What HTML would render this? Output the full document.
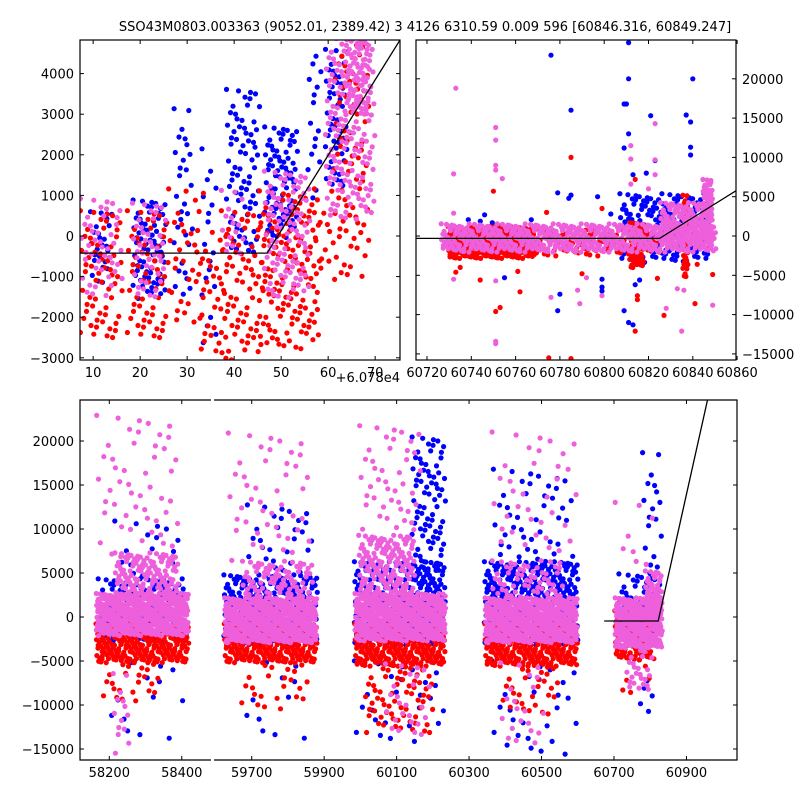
<!DOCTYPE html>
<html><head><meta charset="utf-8">
<style>
html,body{margin:0;padding:0;background:#fff;}
svg{display:block;font-family:"DejaVu Sans","Liberation Sans",sans-serif;}
text{font-size:13px;fill:#000;}
</style></head>
<body>
<svg id="chart" width="800" height="800" viewBox="0 0 800 800" xmlns="http://www.w3.org/2000/svg">
<defs>
<clipPath id="clipTL"><rect x="80" y="40" width="320" height="320"/></clipPath>
<clipPath id="clipTR"><rect x="416" y="40" width="320" height="320"/></clipPath>
<clipPath id="clipB"><rect x="80" y="400" width="657" height="360"/></clipPath>
</defs>
<text x="425" y="31" text-anchor="middle">SSO43M0803.003363 (9052.01, 2389.42)   3 4126 6310.59 0.009 596 [60846.316, 60849.247]</text>
<g id="tl"></g>
<g id="tr"></g>
<g id="bt"></g>
</svg>
<script>
// ---------------- data ----------------
var COLORS = {b:"#0000ff", r:"#ff0000", p:"#ee5fdc"};
// bands: [x0, x1, y0, y1, spacing, color]
var tlBands = [
 [8,16,-2600,500,10,"r"],[18,26,-2600,500,10,"r"],[27,33,-2200,1000,13,"r"],[33,38,-3000,0,11,"r"],
 [38,46,-3000,500,10,"r"],[46,58,-2700,1000,9,"r"],[58,62,-1500,1000,13,"r"],[62,68,-1000,4800,11,"r"],
 [10,14,-1100,500,8,"b"],[19,25,-1500,800,7,"b"],[28,31,-1500,3000,11,"b"],[34,36,-2800,2000,12,"b"],
 [39,45,-500,3500,9,"b"],[47,53,0,2600,7,"b"],[56.5,58,1000,4800,11,"b"],[60,64,1200,4500,8,"b"],
 [8,16,-1500,800,10,"p"],[19,25,-1500,700,9,"p"],[38,42,-500,1000,10,"p"],[47,56,-1500,1500,8,"p"],
 [60,70,500,4800,8,"p"],[64,69,3000,4800,6,"p"]
];
var trBands = [
 [60740,60770,-1500,1500,9,"b"],[60808,60848,-3000,5000,6,"b"],
 [60730,60768,-2800,1000,3,"r"],[60770,60825,-2500,500,6,"r"],[60836,60838,-5000,5000,3,"r"],[60812,60818,-4000,1500,3,"r"],
 [60727,60850,-2200,1300,4,"p"],[60826,60849,-1000,4000,4,"p"],[60845,60849,0,7000,3,"p"]
];
var bBands = [
 [58175,58410,-3000,4000,6,"b"],[58230,58400,4000,10000,16,"b"],[58200,58400,-14000,-6000,22,"b"],
 [58167,58416,-5200,-1000,4,"r"],[58190,58330,-9000,-5000,10,"r"],
 [58167,58416,-2200,2500,3,"p"],[58220,58390,2500,7000,5,"p"],[58180,58400,7000,22000,16,"p"],[58220,58260,-15000,-7000,10,"p"],
 [59628,59877,-3000,4500,5,"b"],[59700,59870,4500,12000,13,"b"],[59680,59850,-14000,-6000,22,"b"],
 [59628,59877,-5000,-1000,4,"r"],[59680,59860,-10000,-5000,12,"r"],
 [59628,59877,-2800,2000,3,"p"],[59680,59870,2000,6000,6,"p"],[59650,59870,6000,20000,16,"p"],
 [59988,60236,-3000,6000,5,"b"],[60150,60236,5000,20000,8,"b"],[60000,60230,-14000,-6000,18,"b"],
 [59988,60236,-5500,-1000,4,"r"],[60020,60200,-13000,-5500,9,"r"],
 [59988,60236,-2800,2500,3,"p"],[60000,60150,2500,9000,5,"p"],[60010,60170,9000,21000,13,"p"],[60080,60180,-14000,-6000,12,"p"],
 [60347,60596,-3000,6000,5,"b"],[60380,60590,6000,16000,14,"b"],[60380,60580,-15000,-6000,18,"b"],
 [60347,60596,-5500,-1000,4,"r"],[60400,60540,-11000,-5500,10,"r"],
 [60347,60596,-2800,2000,3,"p"],[60370,60560,2000,6000,7,"p"],[60380,60580,6000,20000,18,"p"],[60400,60500,-15000,-6000,14,"p"],
 [60720,60833,-2500,4500,7,"b"],[60790,60830,4500,18000,12,"b"],[60780,60810,-12000,-5500,11,"b"],
 [60706,60800,-5000,500,4,"r"],[60720,60800,-9000,-5000,14,"r"],
 [60706,60833,-3500,2000,3,"p"],[60790,60833,0,5000,4,"p"],[60740,60800,-9000,-3500,7,"p"],[60720,60800,5000,12000,18,"p"]
];
var trBlueX = [60811,60811,60840,60776,60785,60810,60809,60811,60837,60839,60839,60839,60821,60823,60809,60813,60819,60811,60813,60809,60779,60780,60799,60799,60799,60755,60746,60785,60784,60779,60797,60803,60814,60816];
var trBlueY = [24600,20000,20000,23000,16000,16800,16800,13000,15400,14500,11300,10300,15300,9600,11200,7800,8000,-11000,-11300,-9500,-9500,-7400,-6500,-7000,-5500,-5300,2700,5200,4800,5500,5000,2800,-6200,-5600];
var trRedX = [60775,60785,60785,60750,60751,60753,60744,60733,60735,60762,60761,60790,60799,60774,60814,60815,60815,60824,60827,60841,60849,60814,60842];
var trRedY = [-15500,-15600,10000,5700,-9600,-9100,-5600,-4600,-4000,-7100,-4500,-4800,3500,3000,7200,-7600,-8100,-5400,-10100,-8600,-4900,-12100,-3600];
var trPinkX = [60733,60732,60751,60751,60751,60751,60754,60732,60732,60751,60751,60751,60785,60776,60788,60789,60792,60799,60812,60812,60812,60823,60823,60820,60828,60835,60833,60836,60849,60823];
var trPinkY = [18800,7900,13800,12200,9000,8400,7300,2900,-5500,-5700,-13400,-13700,-16000,-7800,-6900,-8600,-5300,-7600,11500,9800,6600,9700,7800,6000,-9200,-12100,-6700,-6900,-8800,14300];
var tlLineX = [7.2,47,75.3], tlLineY = [-420,-420,4830];
var trLineX = [60715,60825,60862], trLineY = [-300,-300,6200];
var bLineX = [60673,60822,60958], bLineY = [-450,-450,24660];
var tlXTicks = [10,20,30,40,50,60,70], tlYTicks = [-3000,-2000,-1000,0,1000,2000,3000,4000];
var trXTicks = [60720,60740,60760,60780,60800,60820,60840,60860], trYTicks = [-15000,-10000,-5000,0,5000,10000,15000,20000];
var bXTicks = [58200,58400,59700,59900,60100,60300,60500,60700,60900], bYTicks = [-15000,-10000,-5000,0,5000,10000,15000,20000];

// ---------------- scales ----------------
var NS="http://www.w3.org/2000/svg";
function tlX(v){return 80+(v-7.2)*4.7;}
function tlY(v){return 236-v*0.0406;}
function trX(v){return 427+(v-60720)*2.215;}
function trY(v){return 236-v*0.00786;}
function bX(v){ if(v<59000) return 109.3+(v-58200)*0.3623; return 614+(v-60700)*0.3623; }
function bY(v){return 617-v*0.0088;}
function el(tag,attrs,parent){var e=document.createElementNS(NS,tag);for(var k in attrs)e.setAttribute(k,attrs[k]);parent.appendChild(e);return e;}
function fmt(v){return v<0?"\u2212"+(-v):""+v;}

function drawBands(g,bands,sx,sy,order){
  order.forEach(function(c){
    bands.forEach(function(bd){
      if(bd[5]!==c) return;
      var x0=sx(bd[0]),x1=sx(bd[1]),ya=sy(bd[3]),yb=sy(bd[2]),s=bd[4];
      var row=0;
      for(var y=ya;y<=yb;y+=s*0.87,row++){
        var col=0;
        for(var x=x0+(row%2)*s/2;x<=x1;x+=s,col++){
          var jx=(((row*37+col*17)%7)-3)*s/9, jy=(((row*13+col*29)%7)-3)*s/6;
          var d=el("circle",{cx:(x+jx).toFixed(1),cy:(y+jy).toFixed(1),r:2.6,fill:COLORS[c]},g);
          
          
        }
      }
    });
  });
}
function drawPoints(g,xs,ys,c,sx,sy){
  for(var i=0;i<xs.length;i++){
    var d=el("circle",{cx:sx(xs[i]).toFixed(1),cy:sy(ys[i]).toFixed(1),r:2.6,fill:COLORS[c]},g);
    
    
  }
}
function drawLine(g,xs,ys,sx,sy){
  var pts=xs.map(function(x,i){return sx(x).toFixed(1)+","+sy(ys[i]).toFixed(1);}).join(" ");
  var l=el("polyline",{points:pts,fill:"none",stroke:"#000","stroke-width":1.3},g);
  
  
}
function frame(g,x,y,w,h){
  var r=el("rect",{x:x,y:y,width:w,height:h,fill:"none",stroke:"#000","stroke-width":1.2},g);
  
  
}
function xTicks(g,ticks,sx,top,bot,lo,hi){
  ticks.forEach(function(t){
    var x=sx(t); if(x<lo||x>hi) return;
    el("line",{x1:x,x2:x,y1:bot,y2:bot-4,stroke:"#000"},g);
    el("line",{x1:x,x2:x,y1:top,y2:top+4,stroke:"#000"},g);
    var tx=el("text",{x:x,y:bot+17,"text-anchor":"middle"},g); tx.textContent=fmt(t);
    
    
  });
}
function yTicks(g,ticks,sy,left,right,side){
  ticks.forEach(function(t){
    var y=sy(t);
    el("line",{x1:left,x2:left+4,y1:y,y2:y,stroke:"#000"},g);
    el("line",{x1:right,x2:right-4,y1:y,y2:y,stroke:"#000"},g);
    var tx=side==="left"?el("text",{x:left-6,y:y+5,"text-anchor":"end"},g):el("text",{x:right+6,y:y+5,"text-anchor":"start"},g);
    tx.textContent=fmt(t);
    
    
  });
}

// top-left
var gTL=document.getElementById("tl");
var cTL=el("g",{"clip-path":"url(#clipTL)"},gTL);
drawBands(cTL,tlBands,tlX,tlY,["b","r","p"]);
drawLine(cTL,tlLineX,tlLineY,tlX,tlY);
frame(gTL,80,40,320,320);
xTicks(gTL,tlXTicks,tlX,40,360,80,400);
yTicks(gTL,tlYTicks,tlY,80,400,"left");
var off=el("text",{x:400,y:382,"text-anchor":"end"},gTL); off.textContent="+6.078e4";



// top-right
var gTR=document.getElementById("tr");
var cTR=el("g",{"clip-path":"url(#clipTR)"},gTR);
drawBands(cTR,trBands,trX,trY,["b","r","p"]);
drawPoints(cTR,trBlueX,trBlueY,"b",trX,trY);
drawPoints(cTR,trRedX,trRedY,"r",trX,trY);
drawPoints(cTR,trPinkX,trPinkY,"p",trX,trY);
drawLine(cTR,trLineX,trLineY,trX,trY);
frame(gTR,416,40,320,320);
xTicks(gTR,trXTicks,trX,40,360,416,739);
yTicks(gTR,trYTicks,trY,416,736,"right");

// bottom
var gB=document.getElementById("bt");
var cB=el("g",{"clip-path":"url(#clipB)"},gB);
drawBands(cB,bBands,bX,bY,["b","r","p"]);
drawLine(cB,bLineX,bLineY,bX,bY);
var fr=el("path",{d:"M211,400 H80 V760 H211 M214,760 H737 V400 H214",fill:"none",stroke:"#000","stroke-width":1.2},gB);


xTicks(gB,bXTicks,bX,400,760,80,737);
yTicks(gB,bYTicks,bY,80,737,"left");
</script>
</body></html>
